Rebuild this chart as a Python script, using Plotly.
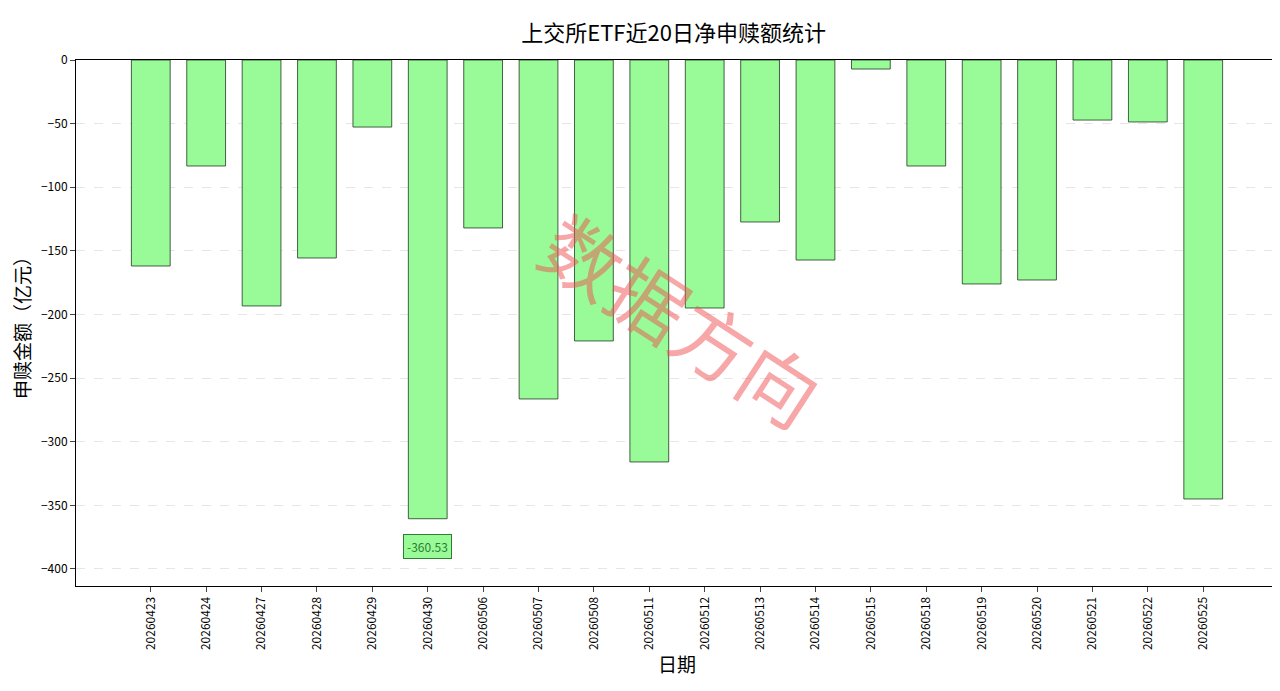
import plotly.graph_objects as go

DATES = ["20260423", "20260424", "20260427", "20260428", "20260429", "20260430",
         "20260506", "20260507", "20260508", "20260511", "20260512", "20260513",
         "20260514", "20260515", "20260518", "20260519", "20260520", "20260521",
         "20260522", "20260525"]
NET_FLOW = [-161.9, -83.3, -193.3, -155.6, -52.7, -360.53, -132.0, -266.4, -220.8,
            -315.9, -194.9, -127.3, -157.2, -7.1, -83.3, -176.0, -172.9, -47.2,
            -48.7, -345.0]

FONT = "Noto Sans CJK SC"

fig = go.Figure()
fig.add_trace(go.Bar(
    x=list(range(len(DATES))), y=NET_FLOW, width=0.7,
    marker={"color": "#98fb98", "line": {"color": "#1f3a1f", "width": 0.8}},
))

low = min(NET_FLOW)
i_low = NET_FLOW.index(low)
fig.add_annotation(
    x=i_low, y=low - 22, text=f"{low:.2f}", showarrow=False,
    font={"family": FONT, "size": 12, "color": "#2e7d32"},
    bgcolor="#98fb98", bordercolor="#2e7d32", borderwidth=1, borderpad=3,
)
fig.add_annotation(
    x=0.505, y=0.51, xref="paper", yref="paper", text="数据方向", showarrow=False,
    textangle=33, font={"family": FONT, "size": 78, "color": "rgba(240,80,80,0.5)"},
)

fig.update_layout(
    width=1280, height=691, plot_bgcolor="white", paper_bgcolor="white",
    margin={"l": 68, "r": 10, "t": 52, "b": 113},
    showlegend=False,
    title={"text": "上交所ETF近20日净申赎额统计", "x": 0.52, "y": 0.975,
           "font": {"family": FONT, "size": 22, "color": "black"}},
    font={"family": FONT, "color": "black"},
)
fig.update_xaxes(
    tickvals=list(range(len(DATES))), ticktext=DATES, tickangle=-90,
    range=[-1.35, len(DATES) - 1 + 1.35], showline=True, linecolor="black",
    mirror=True, ticks="outside", tickfont={"size": 12}, automargin=False,
    title={"text": "日期", "font": {"size": 19}, "standoff": 8},
)
fig.update_yaxes(
    range=[-413.4, 0], dtick=50, showline=True, linecolor="black", mirror=True,
    ticks="outside", gridcolor="#e6e6e6", griddash="dash", zeroline=False,
    tickfont={"size": 12}, automargin=False,
    title={"text": "申赎金额（亿元）", "font": {"size": 19}, "standoff": 8},
)

fig.write_html("out.html")
